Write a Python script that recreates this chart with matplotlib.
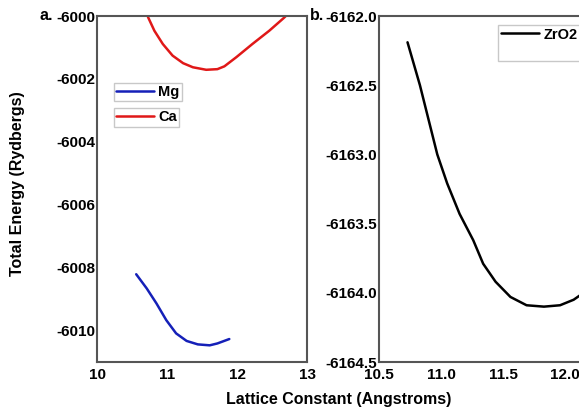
import matplotlib.pyplot as plt
from matplotlib.lines import Line2D

plt.rcParams['font.family'] = ['Liberation Sans', 'DejaVu Sans']
plt.rcParams['font.weight'] = 'bold'
plt.rcParams['axes.unicode_minus'] = False

# panel a: Mg and Ca
mg_x = [10.56, 10.71, 10.85, 10.99, 11.13, 11.28, 11.44, 11.61, 11.72, 11.89]
mg_y = [-6008.21, -6008.66, -6009.14, -6009.67, -6010.09, -6010.33, -6010.44, -6010.47, -6010.41, -6010.27]
ca_x = [10.72, 10.73, 10.82, 10.94, 11.08, 11.23, 11.37, 11.56, 11.72, 11.82, 11.99, 12.22, 12.46, 12.67, 12.72]
ca_y = [-5999.9, -6000.04, -6000.47, -6000.89, -6001.26, -6001.50, -6001.63, -6001.71, -6001.69, -6001.60,
        -6001.31, -6000.89, -6000.47, -6000.06, -5999.95]

# panel b: ZrO2
zr_x = [10.73, 10.83, 10.97, 11.05, 11.15, 11.26, 11.34, 11.44, 11.56, 11.69, 11.83, 11.96, 12.07, 12.15, 12.25]
zr_y = [-6162.19, -6162.50, -6163.0, -6163.21, -6163.43, -6163.62, -6163.79, -6163.92, -6164.03, -6164.09,
        -6164.10, -6164.09, -6164.05, -6164.0, -6163.92]

fig = plt.figure(figsize=(5.79, 4.11), dpi=100)
ax1 = fig.add_axes([97 / 579, 49 / 411, 210 / 579, 346 / 411])
ax2 = fig.add_axes([379 / 579, 49 / 411, 248 / 579, 346 / 411])

line_kw = dict(lw=1.8, solid_joinstyle='round', solid_capstyle='round')
l_mg, = ax1.plot(mg_x, mg_y, color='#1520b8', **line_kw)
l_ca, = ax1.plot(ca_x, ca_y, color='#e01818', **line_kw)
ax1.set_xlim(10, 13)
ax1.set_ylim(-6011, -6000)
ax1.set_xticks([10, 11, 12, 13])
ax1.set_yticks([-6000, -6002, -6004, -6006, -6008, -6010])

l_zr, = ax2.plot(zr_x, zr_y, color='black', **line_kw)
ax2.set_xlim(10.5, 12.5)
ax2.set_ylim(-6164.5, -6162.0)
ax2.set_xticks([10.5, 11.0, 11.5, 12.0])
ax2.set_xticklabels(['10.5', '11.0', '11.5', '12.0'])
ax2.set_yticks([-6162.0, -6162.5, -6163.0, -6163.5, -6164.0, -6164.5])
ax2.set_yticklabels(['-6162.0', '-6162.5', '-6163.0', '-6163.5', '-6164.0', '-6164.5'])

for ax in (ax1, ax2):
    for s in ax.spines.values():
        s.set_color('#555555')
        s.set_linewidth(1.5)
    ax.tick_params(length=0, labelsize=11, pad=1.5)
    ax.tick_params(axis='x', pad=4)
    for t in ax.get_xticklabels() + ax.get_yticklabels():
        t.set_fontweight('bold')

# separate boxed entries, Origin style
leg1 = ax1.legend(handles=[l_mg], labels=['Mg'], loc='center left', bbox_to_anchor=(0.08, 0.78),
                  fontsize=10.5, frameon=True, fancybox=False, edgecolor='#bbbbbb',
                  handlelength=2.6, handletextpad=0.3, borderpad=0.15, borderaxespad=0)
ax1.add_artist(leg1)
leg2 = ax1.legend(handles=[l_ca], labels=['Ca'], loc='center left', bbox_to_anchor=(0.08, 0.707),
                  fontsize=10.5, frameon=True, fancybox=False, edgecolor='#bbbbbb',
                  handlelength=2.6, handletextpad=0.3, borderpad=0.15, borderaxespad=0)
for lg in (leg1, leg2):
    lg.get_frame().set_linewidth(1.0)

blank = Line2D([], [], color='none')
leg3 = ax2.legend(handles=[l_zr, blank], labels=['ZrO2', ' '], loc='upper left',
                  bbox_to_anchor=(0.48, 0.975), fontsize=10.5, frameon=True, fancybox=False,
                  edgecolor='#bbbbbb', handlelength=2.6, handletextpad=0.3, borderpad=0.2,
                  labelspacing=0.2, borderaxespad=0)
leg3.get_frame().set_linewidth(1.0)

fig.text(40 / 579, 1 - 16 / 411, 'a.', fontsize=11.5, fontweight='bold', va='center')
fig.text(310 / 579, 1 - 16 / 411, 'b.', fontsize=11.5, fontweight='bold', va='center')
fig.text(18 / 579, 1 - 184 / 411, 'Total Energy (Rydbergs)', rotation=90, fontsize=11.5,
         fontweight='bold', ha='center', va='center')
fig.text(339 / 579, 1 - 399 / 411, 'Lattice Constant (Angstroms)', fontsize=11.5,
         fontweight='bold', ha='center', va='center')

fig.savefig('out.png', dpi=100)
